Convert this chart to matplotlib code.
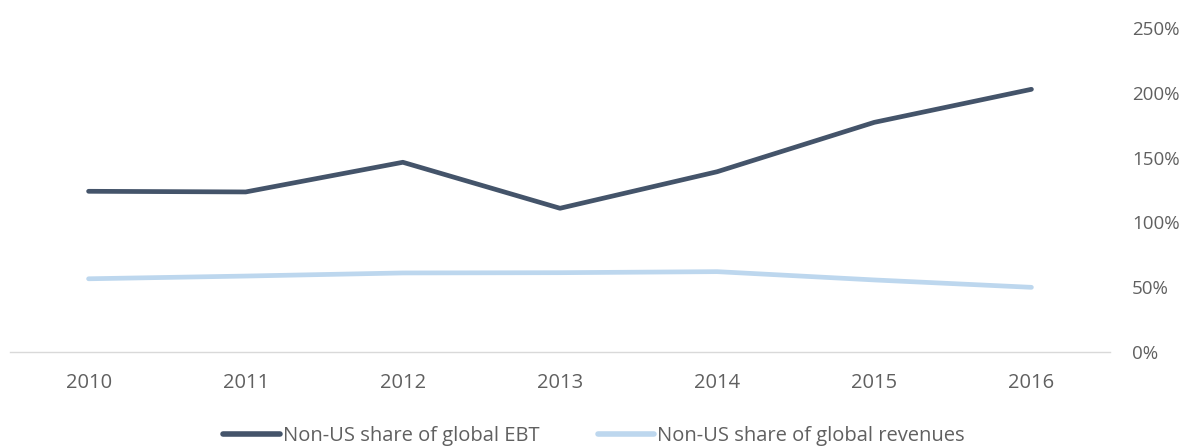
import matplotlib
matplotlib.use("Agg")
import matplotlib.pyplot as plt
from matplotlib.ticker import FuncFormatter

years = ["2010", "2011", "2012", "2013", "2014", "2015", "2016"]
ebt_share = [124.0, 123.5, 146.4, 110.9, 139.1, 177.2, 202.7]
revenue_share = [56.5, 58.6, 61.0, 61.2, 62.0, 55.6, 49.9]
series_labels = ["Non-US share of global EBT", "Non-US share of global revenues"]
y_ticks = [0, 50, 100, 150, 200, 250]

plt.rcParams['font.family'] = ['Open Sans', 'DejaVu Sans']

fig = plt.figure(figsize=(11.8, 4.48), dpi=100)
ax = fig.add_axes([10/1180, 1 - 352/448, 1100/1180, 324/448])

x = list(range(len(years)))
ax.plot(x, ebt_share, color="#44546A", lw=3.4, solid_capstyle="round", solid_joinstyle="round", label=series_labels[0])
ax.plot(x, revenue_share, color="#BDD7EE", lw=3.4, solid_capstyle="round", solid_joinstyle="round", label=series_labels[1])

ax.set_xlim(-0.5, len(years) - 0.5)
ax.set_ylim(0, 250)
ax.set_xticks(x)
ax.set_xticklabels(years)
ax.set_yticks(y_ticks)
ax.yaxis.set_major_formatter(FuncFormatter(lambda v, p: f"{int(v)}%"))
ax.yaxis.tick_right()
for s in ["top", "left", "right"]:
    ax.spines[s].set_visible(False)
ax.spines["bottom"].set_color("#D9D9D9")
ax.spines["bottom"].set_linewidth(1.0)
ax.tick_params(axis="both", length=0, colors="#606060")
ax.tick_params(axis="x", labelsize=14.5, pad=15)
ax.tick_params(axis="y", labelsize=13.5, pad=16)

leg = fig.legend(loc="center", bbox_to_anchor=(594/1180, 1 - 436/448), ncol=2, frameon=False,
                 fontsize=14.5, handlelength=2.8, handletextpad=0.15, columnspacing=2.9)
for t in leg.get_texts():
    t.set_color("#606060")
for h in leg.get_lines():
    h.set_linewidth(4.0)

fig.savefig("out.png", dpi=100)
